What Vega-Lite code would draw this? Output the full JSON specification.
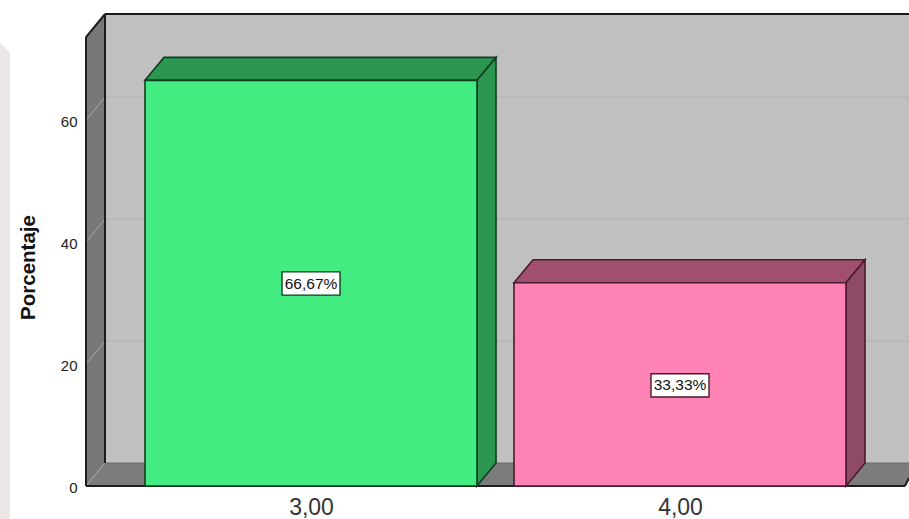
{"$schema":"https://vega.github.io/schema/vega-lite/v6.json","width":823,"height":472,"autosize":{"type":"none"},"padding":{"left":86,"top":14,"right":0,"bottom":33},"background":"#ffffff","view":{"stroke":null},"config":{"font":"Liberation Sans"},
"datasets":{
"areas":[
{"part":"franja","x":2.1572,"y":72.6,"y2":-5.41},{"part":"franja","x":2.1843,"y":71.1,"y2":-5.41},
{"part":"pared","x":2.4417,"y":77.38,"y2":3.77},{"part":"pared","x":4.6206,"y":77.38,"y2":3.77},
{"part":"lateral","x":2.3902,"y":73.6,"y2":0},{"part":"lateral","x":2.4417,"y":77.38,"y2":3.77},
{"part":"suelo","x":2.3902,"y":0,"y2":0},{"part":"suelo","x":2.4417,"y":3.77,"y2":0},{"part":"suelo","x":4.6098,"y":3.77,"y2":0},{"part":"suelo","x":4.6206,"y":3.77,"y2":1.31}
],
"grid":[
{"x":2.4417,"x2":4.6206,"y":63.77,"y2":63.77,"tipo":"fondo"},{"x":2.4417,"x2":4.6206,"y":43.77,"y2":43.77,"tipo":"fondo"},{"x":2.4417,"x2":4.6206,"y":23.77,"y2":23.77,"tipo":"fondo"},
{"x":2.3902,"x2":2.4417,"y":60,"y2":63.77,"tipo":"lado"},{"x":2.3902,"x2":2.4417,"y":40,"y2":43.77,"tipo":"lado"},{"x":2.3902,"x2":2.4417,"y":20,"y2":23.77,"tipo":"lado"},{"x":2.3902,"x2":2.4417,"y":0,"y2":3.77,"tipo":"lado"},
{"x":2.4417,"x2":4.6206,"y":3.77,"y2":3.77,"tipo":"suelo"}
],
"edges":[
{"x":2.3902,"x2":2.3902,"y":0,"y2":73.6},{"x":2.3902,"x2":2.4417,"y":73.6,"y2":77.38},{"x":2.4417,"x2":4.6206,"y":77.38,"y2":77.38},{"x":2.4417,"x2":2.4417,"y":77.38,"y2":3.77},{"x":2.3902,"x2":4.6098,"y":0,"y2":0},{"x":4.6098,"x2":4.6206,"y":0,"y2":1.31}
],
"bars3d":[
{"serie":"a","part":"a_top","x":2.5501,"y":66.5,"y2":66.5},{"serie":"a","part":"a_top","x":2.6016,"y":70.27,"y2":66.5},{"serie":"a","part":"a_top","x":3.4499,"y":70.27,"y2":66.5},{"serie":"a","part":"a_top","x":3.5014,"y":70.27,"y2":70.27},
{"serie":"a","part":"a_side","x":3.4499,"y":66.5,"y2":0},{"serie":"a","part":"a_side","x":3.5014,"y":70.27,"y2":3.77},
{"serie":"b","part":"b_top","x":3.5501,"y":33.33,"y2":33.33},{"serie":"b","part":"b_top","x":3.6016,"y":37.1,"y2":33.33},{"serie":"b","part":"b_top","x":4.4499,"y":37.1,"y2":33.33},{"serie":"b","part":"b_top","x":4.5014,"y":37.1,"y2":37.1},
{"serie":"b","part":"b_side","x":4.4499,"y":33.33,"y2":0},{"serie":"b","part":"b_side","x":4.5014,"y":37.1,"y2":3.77}
],
"bars":[
{"serie":"a","part":"a_front","categoria":3,"x":2.5501,"x2":3.4499,"porcentaje":66.5,"texto":"66,67%","lx":2.9214,"lx2":3.0786,"ly":35.1,"ly2":31.3,"my":33.15},
{"serie":"b","part":"b_front","categoria":4,"x":3.5501,"x2":4.4499,"porcentaje":33.33,"texto":"33,33%","lx":3.9214,"lx2":4.0786,"ly":18.4,"ly2":14.6,"my":16.5}
]},
"layer":[
{"data":{"name":"areas"},"mark":{"type":"area","orient":"vertical","strokeWidth":0},
"encoding":{
"x":{"field":"x","type":"quantitative","scale":{"domain":[2.3902,4.6206],"nice":false,"zero":false},"axis":{"values":[3,4],"title":null,"grid":false,"domain":false,"ticks":false,"labelFontSize":23,"labelColor":"#333333","labelPadding":10,"labelExpr":"datum.value == 3 ? '3,00' : '4,00'"}},
"y":{"field":"y","type":"quantitative","stack":null,"scale":{"domain":[0,77.38],"nice":false,"zero":false},"axis":{"values":[0,20,40,60],"title":"Porcentaje","grid":false,"domain":false,"ticks":false,"labelFontSize":15,"labelColor":"#222222","labelPadding":9,"labelOffset":1,"titleFontSize":20.5,"titleFontWeight":"bold","titleColor":"#111111","titleX":-48,"titleY":253}},
"y2":{"field":"y2"},
"color":{"field":"part","type":"nominal","legend":null,"scale":{"domain":["franja","pared","lateral","suelo","a_top","a_side","a_front","b_top","b_side","b_front"],"range":["#ece7e6","#c0c0c0","#787878","#7c7c7c","#2a9650","#2a9650","#43ec80","#a0506e","#8f4a67","#ff82b4"]}}}},
{"data":{"name":"grid"},"mark":{"type":"rule","strokeWidth":1.2},
"encoding":{"x":{"field":"x","type":"quantitative"},"x2":{"field":"x2"},"y":{"field":"y","type":"quantitative"},"y2":{"field":"y2"},
"stroke":{"field":"tipo","type":"nominal","legend":null,"scale":{"domain":["fondo","lado","suelo","a","b"],"range":["#b0b0b0","#999999","#6a6a6a","#0f3d20","#4a1a30"]}}}},
{"data":{"name":"edges"},"mark":{"type":"rule","strokeWidth":2,"color":"#1c1c1c"},
"encoding":{"x":{"field":"x","type":"quantitative"},"x2":{"field":"x2"},"y":{"field":"y","type":"quantitative"},"y2":{"field":"y2"}}},
{"data":{"name":"bars3d"},"mark":{"type":"area","orient":"vertical","strokeWidth":1.6,"strokeJoin":"miter"},
"encoding":{"x":{"field":"x","type":"quantitative"},"y":{"field":"y","type":"quantitative","stack":null},"y2":{"field":"y2"},
"color":{"field":"part","type":"nominal"},
"stroke":{"field":"serie","type":"nominal"}}},
{"data":{"name":"bars"},"mark":{"type":"rect","strokeWidth":1.6},
"encoding":{"x":{"field":"x","type":"quantitative"},"x2":{"field":"x2"},"y":{"field":"porcentaje","type":"quantitative"},"y2":{"datum":0},
"color":{"field":"part","type":"nominal"},
"stroke":{"field":"serie","type":"nominal"}}},
{"data":{"name":"bars"},"mark":{"type":"rect","fill":"#ffffff","strokeWidth":1.4},
"encoding":{"x":{"field":"lx","type":"quantitative"},"x2":{"field":"lx2"},"y":{"field":"ly","type":"quantitative"},"y2":{"field":"ly2"},
"stroke":{"field":"serie","type":"nominal"}}},
{"data":{"name":"bars"},"mark":{"type":"text","fontSize":15.5,"color":"#111111","align":"center","baseline":"middle"},
"encoding":{"x":{"field":"categoria","type":"quantitative"},"y":{"field":"my","type":"quantitative"},"text":{"field":"texto"}}}
]}
